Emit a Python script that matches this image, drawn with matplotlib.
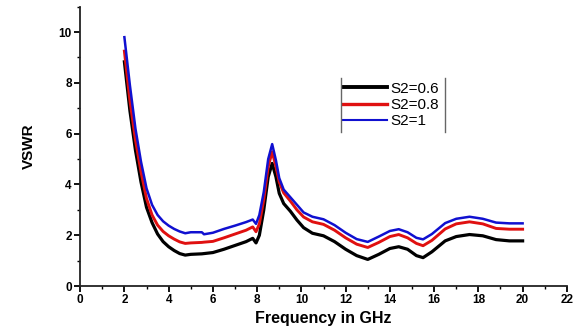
import matplotlib
matplotlib.use('Agg')
import matplotlib.pyplot as plt
from matplotlib.ticker import MultipleLocator

plt.rcParams['font.family'] = ['Liberation Sans', 'DejaVu Sans']

freq = [2.0, 2.25, 2.5, 2.75, 3.0, 3.25, 3.5, 3.75, 4.0, 4.25, 4.5, 4.75,
        5.0, 5.5, 5.6, 6.0, 6.5, 7.0, 7.5, 7.8, 7.95, 8.1, 8.3, 8.5, 8.68,
        8.85, 9.0, 9.2, 9.5, 9.8, 10.1, 10.5, 11.0, 11.5, 12.0, 12.5, 13.0,
        13.5, 14.0, 14.4, 14.8, 15.2, 15.5, 15.9, 16.5, 17.0, 17.6, 18.2,
        18.8, 19.4, 20.0]

vswr_06 = [8.83, 6.9, 5.35, 4.1, 3.1, 2.5, 2.05, 1.75, 1.55, 1.40, 1.28, 1.22,
           1.25, 1.27, 1.28, 1.32, 1.45, 1.6, 1.75, 1.88, 1.70, 2.0, 3.0, 4.3, 4.83,
           4.3, 3.65, 3.25, 2.95, 2.6, 2.3, 2.08, 1.98, 1.75, 1.45, 1.2, 1.05,
           1.25, 1.48, 1.55, 1.45, 1.2, 1.12, 1.35, 1.78, 1.95, 2.03, 1.98,
           1.83, 1.78, 1.78]

vswr_08 = [9.25, 7.3, 5.75, 4.5, 3.45, 2.8, 2.4, 2.15, 1.98, 1.85, 1.74, 1.68,
           1.70, 1.72, 1.73, 1.76, 1.9, 2.05, 2.2, 2.33, 2.14, 2.45, 3.4, 4.7, 5.29,
           4.7, 4.1, 3.67, 3.35, 3.0, 2.72, 2.53, 2.43, 2.2, 1.9, 1.65, 1.52,
           1.72, 1.95, 2.03, 1.9, 1.68, 1.59, 1.8, 2.25, 2.45, 2.53, 2.45,
           2.27, 2.24, 2.24]

vswr_1 = [9.8, 7.9, 6.2, 4.9, 3.85, 3.2, 2.8, 2.55, 2.38, 2.25, 2.15, 2.08,
          2.12, 2.12, 2.04, 2.1, 2.25, 2.38, 2.52, 2.62, 2.45, 2.8, 3.7, 5.0, 5.59,
          4.95, 4.25, 3.8, 3.5, 3.2, 2.9, 2.73, 2.63, 2.4, 2.1, 1.85, 1.74,
          1.95, 2.17, 2.24, 2.12, 1.9, 1.84, 2.05, 2.48, 2.65, 2.73, 2.65,
          2.5, 2.47, 2.47]

labels = ['S2=0.6', 'S2=0.8', 'S2=1']

fig = plt.figure(figsize=(5.85, 3.35), dpi=100)
ax = fig.add_axes([0.137, 0.146, 0.832, 0.834])

ax.plot(freq, vswr_06, color='black', lw=2.3, label=labels[0])
ax.plot(freq, vswr_08, color='#e01010', lw=2.1, label=labels[1])
ax.plot(freq, vswr_1, color='#1010d0', lw=1.8, label=labels[2])

ax.set_xlim(0, 22)
ax.set_ylim(0, 11)
ax.xaxis.set_major_locator(MultipleLocator(2))
ax.xaxis.set_minor_locator(MultipleLocator(1))
ax.yaxis.set_major_locator(MultipleLocator(2))
ax.yaxis.set_minor_locator(MultipleLocator(1))
ax.spines['top'].set_visible(False)
ax.spines['right'].set_visible(False)
for s in ['left', 'bottom']:
    ax.spines[s].set_linewidth(1.3)
    ax.spines[s].set_color('#222222')
ax.tick_params(which='major', direction='out', length=4, width=1.3, labelsize=8.5, pad=2)
ax.tick_params(which='minor', direction='out', length=2.5, width=1.0)
for lab in ax.get_xticklabels() + ax.get_yticklabels():
    lab.set_fontweight('bold')

ax.set_xlabel('Frequency in GHz', fontsize=11.5, fontweight='bold', labelpad=3)
ax.set_ylabel('VSWR', fontsize=11, fontweight='bold', labelpad=16)

leg = ax.legend(loc='upper left', bbox_to_anchor=(0.532, 0.745), fontsize=11,
                frameon=False, handlelength=2.9, handletextpad=0.2,
                labelspacing=0.15, borderpad=0.25, borderaxespad=0)
leg.get_lines()[0].set_linewidth(2.8)
leg.get_lines()[1].set_linewidth(2.4)
leg.get_lines()[2].set_linewidth(1.5)

# Origin-style legend box: only left and right edges
fig.canvas.draw()
bb = leg.get_window_extent().transformed(fig.transFigure.inverted())
for xx in [bb.x0 + 0.003, bb.x1 + 0.004]:
    fig.add_artist(plt.Line2D([xx, xx], [bb.y0, bb.y1], color='#666666', lw=1.0,
                              transform=fig.transFigure))

fig.savefig('out.png', dpi=100)
